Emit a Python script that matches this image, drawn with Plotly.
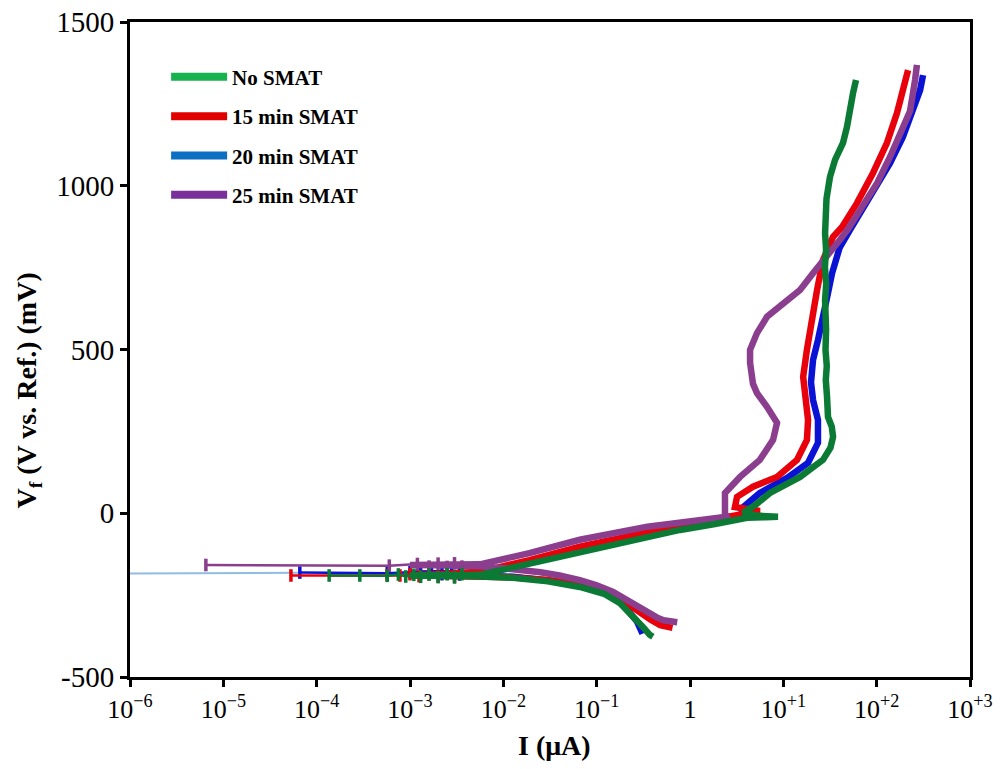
import plotly.graph_objects as go

# ---- Potentiodynamic polarisation data: current I (uA) vs potential Vf (mV) ----
series_names = ["No SMAT", "15 min SMAT", "20 min SMAT", "25 min SMAT"]
curve_colors = ["#0b7a34", "#e8000b", "#0a12d4", "#8b3d8e"]
legend_colors = ["#16b24e", "#e00000", "#0b6fc4", "#7a2f9b"]

# Main branches (cathodic end -> corrosion potential -> anodic end)
i_none = [0.40, 0.37, 0.32, 0.27, 0.22, 0.178, 0.12, 0.066, 0.03, 0.0127, 0.0056, 0.0021, 0.001,
          0.0021, 0.0056, 0.019, 0.066, 0.23, 0.78, 1.85, 4.08, 6.5, 8.77, 5.6, 3.7,
          5.0, 7.2, 10.5, 15.1, 20.0, 26.6, 32.0, 34.1, 33.0, 30.1, 29.4, 28.5, 29.2,
          28.3, 28.7, 27.8, 28.0, 28.8, 27.9, 28.7, 28.0, 29.0, 31.6, 35.8, 40.0, 43.6,
          48.1, 51.8, 55.8, 60.1]
v_none = [-377, -371, -350, -327, -300, -275, -246, -225, -208, -197, -193, -191, -190,
          -189, -188, -155, -117, -85, -51, -33, -14, -12, -11, -8, 1,
          25, 62, 88, 111, 137, 163, 200, 233, 265, 294, 355, 407, 450,
          499, 560, 610, 651, 700, 752, 805, 855, 960, 1027, 1079, 1105, 1131,
          1180, 1241, 1283, 1323]

i_15 = [0.65, 0.55, 0.48, 0.38, 0.29, 0.21, 0.15, 0.10, 0.066, 0.03, 0.0127, 0.005, 0.002, 0.001,
        0.002, 0.0056, 0.019, 0.066, 0.23, 0.78, 2.49, 4.2, 5.6, 3.03, 3.19,
        4.73, 8.56, 14.0, 17.9, 18.4, 17.1, 16.3, 17.9, 20.3, 23.0, 26.6, 34.1,
        42.6, 61.5, 91.4, 129, 165, 191, 217]
v_15 = [-350, -348, -342, -325, -300, -275, -252, -233, -219, -204, -196, -192, -190, -189,
        -186, -179, -143, -102, -69, -35, -11, -2, 7, 19, 50,
        81, 111, 163, 224, 285, 346, 417, 499, 600, 682, 773, 844,
        874, 947, 1039, 1131, 1222, 1292, 1353]

i_20 = [0.31, 0.29, 0.27, 0.22, 0.18, 0.12, 0.066, 0.03, 0.0127, 0.005, 0.002, 0.001,
        0.002, 0.0056, 0.019, 0.066, 0.23, 0.78, 2.49, 4.5, 3.6, 3.61, 5.6,
        11.0, 18.4, 23.5, 23.5, 20.8, 19.8, 20.3, 20.8, 23.5, 25.4, 30.1, 33.3,
        37.6, 40.0, 51.8, 84.9, 139, 191, 245, 292, 314]
v_20 = [-368, -350, -330, -300, -270, -240, -220, -205, -194, -190, -186, -184,
        -183, -182, -148, -108, -75, -42, -18, -5, 10, 16, 62,
        108, 154, 215, 285, 346, 400, 440, 468, 529, 581, 672, 733,
        794, 810, 865, 966, 1069, 1149, 1231, 1292, 1338]

i_25 = [0.73, 0.60, 0.52, 0.44, 0.36, 0.29, 0.21, 0.15, 0.10, 0.066, 0.04, 0.025, 0.012,
        0.0056, 0.002, 0.001,
        0.002, 0.0056, 0.019, 0.066, 0.35, 1.77, 2.49, 2.37, 2.37, 3.44,
        5.6, 7.76, 8.56, 6.68, 5.22, 4.73, 4.5, 4.4, 4.4, 5.22, 6.68, 9.22,
        15.1, 20.8, 29.4, 40.5, 50.0, 66.2, 101, 139, 187, 228, 258, 270]
v_25 = [-333, -332, -327, -318, -303, -286, -262, -240, -220, -204, -190, -180, -170,
        -162, -159, -158,
        -157, -156, -122, -81, -41, -14, -11, 0, 62, 111,
        163, 224, 276, 325, 367, 395, 430, 460, 499, 550, 600, 630,
        682, 733, 783, 835, 870, 926, 1008, 1088, 1170, 1228, 1323, 1369]

# Sparse readings near the corrosion potential (current close to zero)
lo_i_none = [1.36e-4, 2.9e-4, 5.7e-4, 7.5e-4, 9e-4, 1.1e-3, 1.3e-3, 1.6e-3, 2e-3, 2.5e-3, 3e-3, 3.6e-3]
lo_v_none = [-190, -190, -191, -187, -193, -188, -194, -187, -195, -186, -196, -186]
lo_i_15 = [5.3e-5, 5.7e-4, 7.8e-4, 1e-3, 1.25e-3, 1.6e-3, 2e-3, 2.5e-3, 3e-3]
lo_v_15 = [-190, -189, -190, -186, -192, -186, -193, -185, -194]
lo_i_20 = [6.6e-5, 5.7e-4, 1e-3, 1.3e-3, 1.7e-3, 2.2e-3, 2.8e-3, 3.4e-3]
lo_v_20 = [-181, -183, -180, -185, -179, -186, -178, -187]
lo_i_25 = [6.5e-6, 6e-4, 1.2e-3, 1.6e-3, 2e-3, 2.5e-3, 3e-3, 3.6e-3]
lo_v_25 = [-158, -160, -155, -163, -154, -164, -153, -163]

# Faint baseline reading of the 20 min sample running off the low-current end
tail_i_20 = [5e-7, 4.8e-5, 6.6e-5]
tail_v_20 = [-184, -184, -182]

x_tickvals = [1e-6, 1e-5, 1e-4, 1e-3, 1e-2, 1e-1, 1, 10, 100, 1000]
x_ticktext = ["10<sup>\u22126</sup>", "10<sup>\u22125</sup>", "10<sup>\u22124</sup>",
              "10<sup>\u22123</sup>", "10<sup>\u22122</sup>", "10<sup>\u22121</sup>", "1",
              "10<sup>+1</sup>", "10<sup>+2</sup>", "10<sup>+3</sup>"]
y_tickvals = [-500, 0, 500, 1000, 1500]
y_ticktext = ["-500", "0", "500", "1000", "1500"]

SERIF = "Liberation Serif, Times New Roman, serif"

main_i = [i_none, i_15, i_20, i_25]
main_v = [v_none, v_15, v_20, v_25]
lo_i = [lo_i_none, lo_i_15, lo_i_20, lo_i_25]
lo_v = [lo_v_none, lo_v_15, lo_v_20, lo_v_25]

fig = go.Figure()

fig.add_trace(go.Scatter(x=tail_i_20, y=tail_v_20, mode="lines",
                         line=dict(color="#8fbde4", width=2), showlegend=False,
                         hoverinfo="skip"))

draw_order = [2, 1, 3, 0]
for k in draw_order:
    c = curve_colors[k]
    fig.add_trace(go.Scatter(
        x=lo_i[k], y=lo_v[k], mode="lines+markers",
        line=dict(color=c, width=2.5),
        marker=dict(symbol="line-ns", size=9, line=dict(color=c, width=3.5)),
        showlegend=False, name=series_names[k]))
    fig.add_trace(go.Scatter(
        x=main_i[k], y=main_v[k], mode="lines",
        line=dict(color=c, width=6.5), showlegend=False, name=series_names[k]))

# Legend entries
for k in range(4):
    fig.add_trace(go.Scatter(
        x=[None], y=[None], mode="lines", name=series_names[k],
        legendgroup=f"g{k}",
        line=dict(color=legend_colors[k], width=8)))

axis_common = dict(
    showline=True, linecolor="black", linewidth=3, mirror=True,
    ticks="outside", ticklen=7, tickwidth=3, tickcolor="black",
    showgrid=False, zeroline=False, automargin=False,
)

fig.update_xaxes(type="log", range=[-6, 3], tickmode="array",
                 tickvals=x_tickvals, ticktext=x_ticktext,
                 tickfont=dict(family=SERIF, size=26, color="black"), **axis_common)
fig.update_yaxes(range=[-500, 1500], tickmode="array",
                 tickvals=y_tickvals, ticktext=y_ticktext,
                 tickfont=dict(family=SERIF, size=29, color="black"), **axis_common)

fig.add_annotation(text="<b>I (\u03bcA)</b>", xref="paper", yref="paper",
                   x=0.505, y=-0.104, xanchor="center", yanchor="middle", showarrow=False,
                   font=dict(family=SERIF, size=28, color="black"))
fig.add_annotation(text="<b>V<sub>f</sub> (V vs. Ref.) (mV)</b>", xref="paper", yref="paper",
                   x=-0.121, y=0.438, xanchor="center", yanchor="middle", textangle=-90,
                   showarrow=False, font=dict(family=SERIF, size=28, color="black"))

fig.update_layout(
    width=1001, height=769,
    margin=dict(l=130, r=31, t=22, b=92),
    paper_bgcolor="white", plot_bgcolor="white",
    showlegend=True,
    legend=dict(x=0.043, y=0.947, xanchor="left", yanchor="top",
                bgcolor="rgba(0,0,0,0)", itemwidth=56, tracegroupgap=9,
                font=dict(family=SERIF, size=21, color="black", weight="bold"),
                traceorder="grouped"),
)

fig.write_html("out.html")
